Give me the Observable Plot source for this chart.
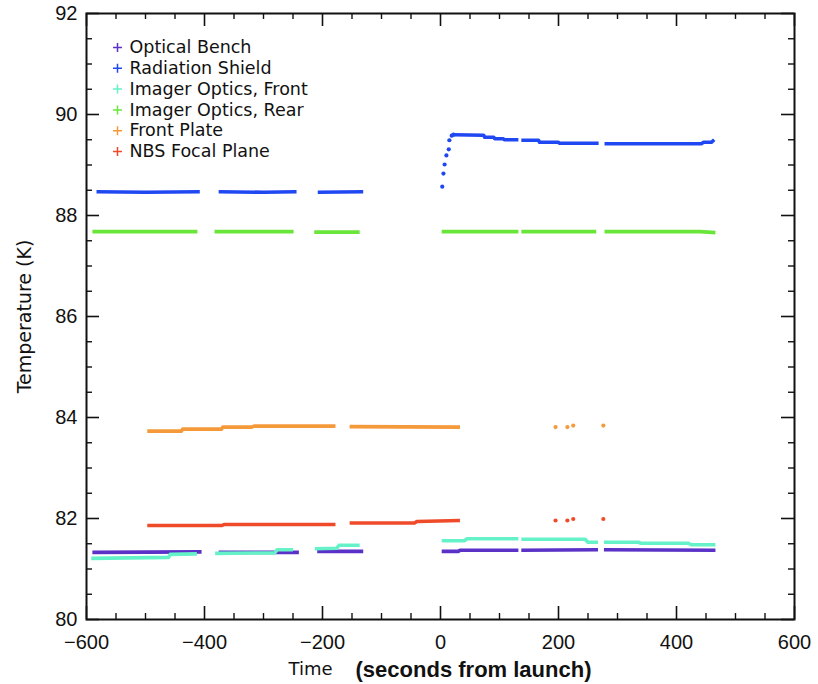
<!DOCTYPE html>
<html>
<head>
<meta charset="utf-8">
<script src="https://cdn.jsdelivr.net/npm/d3@7"></script>
<script src="https://cdn.jsdelivr.net/npm/@observablehq/plot@0.6"></script>
<style>
  html, body { margin: 0; padding: 0; background: #fff; }
  #chart { width: 818px; height: 684px; }
</style>
</head>
<body>
<div id="chart"></div>
<script>
// ---- Series names and colours ----
const seriesNames = ["Optical Bench", "Radiation Shield", "Imager Optics, Front", "Imager Optics, Rear", "Front Plate", "NBS Focal Plane"];
const seriesColors = ["#5a32c8", "#2048f2", "#66f2c8", "#6ae63a", "#f59a3a", "#ef4b2b"];

// ---- Continuous segments per series: [time (s), temperature (K)] ----
const benchSegments = [
  [[-590, 81.33], [-405, 81.34]],
  [[-376, 81.33], [-240, 81.33]],
  [[-209, 81.35], [-131, 81.35]],
  [[2, 81.35], [30, 81.35], [33, 81.37], [132, 81.37]],
  [[137, 81.37], [267, 81.38]],
  [[277, 81.38], [466, 81.37]]
];
const shieldSegments = [
  [[-583, 88.47], [-500, 88.46], [-408, 88.47]],
  [[-376, 88.47], [-300, 88.46], [-244, 88.47]],
  [[-208, 88.46], [-131, 88.47]],
  [[22, 89.60], [73, 89.59], [75, 89.55], [90, 89.55], [92, 89.52], [106, 89.52], [108, 89.50], [132, 89.50]],
  [[137, 89.49], [166, 89.49], [168, 89.45], [200, 89.45], [202, 89.43], [268, 89.43]],
  [[278, 89.42], [442, 89.42], [446, 89.45], [459, 89.45], [464, 89.50]]
];
const frontSegments = [
  [[-592, 81.21], [-461, 81.23], [-458, 81.29], [-413, 81.30]],
  [[-382, 81.31], [-281, 81.32], [-277, 81.38], [-250, 81.38]],
  [[-213, 81.40], [-176, 81.41], [-172, 81.47], [-137, 81.47]],
  [[2, 81.56], [41, 81.56], [45, 81.60], [132, 81.60]],
  [[137, 81.59], [245, 81.59], [250, 81.53], [267, 81.53]],
  [[277, 81.53], [335, 81.53], [340, 81.51], [420, 81.51], [425, 81.48], [466, 81.48]]
];
const rearSegments = [
  [[-590, 87.68], [-412, 87.68]],
  [[-383, 87.68], [-249, 87.68]],
  [[-214, 87.67], [-137, 87.67]],
  [[2, 87.68], [132, 87.68]],
  [[137, 87.68], [264, 87.68]],
  [[278, 87.68], [440, 87.68], [466, 87.66]]
];
const plateSegments = [
  [[-497, 83.73], [-439, 83.73], [-437, 83.77], [-371, 83.77], [-369, 83.81], [-320, 83.81], [-316, 83.83], [-178, 83.83]],
  [[-154, 83.82], [33, 83.81]]
];
const nbsSegments = [
  [[-497, 81.86], [-371, 81.86], [-367, 81.88], [-178, 81.88]],
  [[-154, 81.91], [-44, 81.91], [-40, 81.94], [33, 81.96]]
];

// ---- Isolated samples ----
const shieldRise = [[3, 88.57], [5, 88.83], [7, 89.01], [10, 89.19], [14, 89.31], [15, 89.49], [19, 89.58], [22, 89.60]];
const plateSpots = [[195, 83.81], [215, 83.81], [225, 83.84], [276, 83.84]];
const nbsSpots = [[195, 81.96], [215, 81.96], [225, 81.99], [276, 81.99]];

// ---- Axis ticks ----
const xTicks = [-600, -400, -200, 0, 200, 400, 600];
const xMinorTicks = [-550, -500, -450, -350, -300, -250, -150, -100, -50, 50, 100, 150, 250, 300, 350, 450, 500, 550];
const yTicks = [80, 82, 84, 86, 88, 90, 92];
const yMinorTicks = [80.5, 81, 81.5, 82.5, 83, 83.5, 84.5, 85, 85.5, 86.5, 87, 87.5, 88.5, 89, 89.5, 90.5, 91, 91.5];

// ---- Build tables ----
const segmentSets = [
  [seriesNames[0], benchSegments],
  [seriesNames[2], frontSegments],
  [seriesNames[1], shieldSegments],
  [seriesNames[3], rearSegments],
  [seriesNames[4], plateSegments],
  [seriesNames[5], nbsSegments]
];
const lineRows = segmentSets.flatMap(([name, segs]) =>
  segs.flatMap((seg, si) => seg.map(([t, T]) => ({series: name, key: name + "#" + si, t, T}))));
const dotRows = [
  ...shieldRise.map(([t, T]) => ({series: seriesNames[1], t, T})),
  ...plateSpots.map(([t, T]) => ({series: seriesNames[4], t, T})),
  ...nbsSpots.map(([t, T]) => ({series: seriesNames[5], t, T}))
];

const W = 818, H = 684;
const mL = 86, mR = 24, mT = 13, mB = 65;
const plotW = W - mL - mR, plotH = H - mT - mB;
const majorLen = 13, minorLen = 6;
const rounded = "DejaVu Sans, sans-serif";

const legendMarks = seriesNames.flatMap((name, i) => [
  Plot.dot([name], {frameAnchor: "top-left", dx: 31, dy: 34 + i * 20.8, symbol: "plus", stroke: seriesColors[i], r: 3, strokeWidth: 1.5}),
  Plot.text([name], {text: d => d, frameAnchor: "top-left", dx: 43, dy: 34 + i * 20.8, textAnchor: "start", lineAnchor: "middle", fontSize: 17.5, fontFamily: rounded, fill: "#111"})
]);

const chart = Plot.plot({
  width: W, height: H,
  marginLeft: mL, marginRight: mR, marginTop: mT, marginBottom: mB,
  style: {fontFamily: "Liberation Sans, Arial, sans-serif", background: "#fff", color: "#111"},
  x: {domain: [-600, 600]},
  y: {domain: [80, 92]},
  color: {domain: seriesNames, range: seriesColors},
  marks: [
    Plot.line(lineRows, {x: "t", y: "T", z: "key", stroke: "series", strokeWidth: 3.6, strokeLinecap: "butt"}),
    Plot.dot(dotRows, {x: "t", y: "T", fill: "series", r: 2.1}),
    // inside ticks, bottom & top
    Plot.tickX(xTicks, {x: d => d, insetTop: plotH - majorLen, stroke: "#111", strokeWidth: 1.6}),
    Plot.tickX(xTicks, {x: d => d, insetBottom: plotH - majorLen, stroke: "#111", strokeWidth: 1.6}),
    Plot.tickX(xMinorTicks, {x: d => d, insetTop: plotH - minorLen, stroke: "#111", strokeWidth: 1.4}),
    Plot.tickX(xMinorTicks, {x: d => d, insetBottom: plotH - minorLen, stroke: "#111", strokeWidth: 1.4}),
    // inside ticks, left & right
    Plot.tickY(yTicks, {y: d => d, insetRight: plotW - majorLen, stroke: "#111", strokeWidth: 1.6}),
    Plot.tickY(yTicks, {y: d => d, insetLeft: plotW - majorLen, stroke: "#111", strokeWidth: 1.6}),
    Plot.tickY(yMinorTicks, {y: d => d, insetRight: plotW - minorLen, stroke: "#111", strokeWidth: 1.4}),
    Plot.tickY(yMinorTicks, {y: d => d, insetLeft: plotW - minorLen, stroke: "#111", strokeWidth: 1.4}),
    Plot.frame({stroke: "#111", strokeWidth: 2}),
    Plot.axisX({ticks: xTicks, tickSize: 0, tickPadding: 15, fontSize: 20, label: null,
      tickFormat: d => d < 0 ? "\u2212" + (-d) : String(d)}),
    Plot.axisY({ticks: yTicks, tickSize: 0, tickPadding: 9, fontSize: 20, label: null}),
    Plot.text(["Temperature (K)"], {text: d => d, frameAnchor: "left", dx: -62, rotate: -90, textAnchor: "middle", lineAnchor: "middle", fontSize: 19, fontFamily: rounded, fill: "#111"}),
    Plot.text(["Time"], {text: d => d, frameAnchor: "bottom", dx: -130, dy: 50, textAnchor: "middle", lineAnchor: "middle", fontSize: 18, fontFamily: rounded, fill: "#111"}),
    Plot.text(["(seconds from launch)"], {text: d => d, frameAnchor: "bottom", dx: 33, dy: 50, textAnchor: "middle", lineAnchor: "middle", fontSize: 22, fontWeight: "bold", fontFamily: "Liberation Sans, Arial, sans-serif", fill: "#111"}),
    ...legendMarks
  ]
});
document.getElementById("chart").appendChild(chart);
</script>
</body>
</html>
